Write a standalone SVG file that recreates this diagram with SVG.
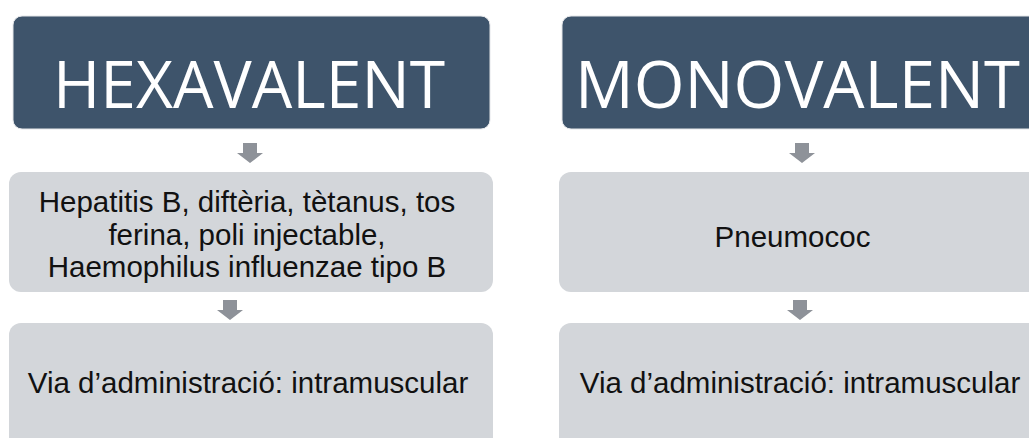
<svg xmlns="http://www.w3.org/2000/svg" width="1029" height="438" viewBox="0 0 1029 438">
<style>
.hdr{fill:#3e546b;stroke:#e4e6e9;stroke-width:1}
.box{fill:#d3d6da}
.arr{fill:#8e9299}
.ht{font-family:"Open Sans","Liberation Sans",sans-serif;font-size:66px;fill:#ffffff;text-anchor:middle}
.bt{font-family:"Liberation Sans",Arial,sans-serif;font-size:29.5px;fill:#111111;text-anchor:middle}
</style>
<rect width="1029" height="438" fill="#ffffff"/>
<g id="hexavalent">
<rect class="hdr" x="13" y="16" width="477" height="113" rx="9"/>
<text class="ht" x="249" y="108" textLength="392" lengthAdjust="spacingAndGlyphs">HEXAVALENT</text>
</g>
<g id="hexa-components">
<rect class="box" x="9" y="172" width="484" height="120" rx="12"/>
<text class="bt" x="247" y="212">Hepatitis B, diftèria, tètanus, tos</text>
<text class="bt" x="247" y="245">ferina, poli injectable,</text>
<text class="bt" x="247" y="277">Haemophilus influenzae tipo B</text>
</g>
<g id="hexa-via">
<rect class="box" x="9" y="323" width="484" height="130" rx="12"/>
<text class="bt" x="248" y="393">Via d’administració: intramuscular</text>
</g>
<g id="monovalent">
<rect class="hdr" x="562" y="16" width="477" height="113" rx="9"/>
<text class="ht" x="797.5" y="108" textLength="445" lengthAdjust="spacingAndGlyphs">MONOVALENT</text>
</g>
<g id="mono-components">
<rect class="box" x="559" y="172" width="484" height="120" rx="12"/>
<text class="bt" x="792.5" y="247">Pneumococ</text>
</g>
<g id="mono-via">
<rect class="box" x="559" y="323" width="484" height="130" rx="12"/>
<text class="bt" x="800" y="393">Via d’administració: intramuscular</text>
</g>
<g id="connectors">
<path class="arr" d="M243,143 h14 v10 h6 l-13,10 l-13,-10 h6 z"/>
<path class="arr" d="M223,300 h14 v10 h6 l-13,10 l-13,-10 h6 z"/>
<path class="arr" d="M795,143 h14 v10 h6 l-13,10 l-13,-10 h6 z"/>
<path class="arr" d="M793,300 h14 v10 h6 l-13,10 l-13,-10 h6 z"/>
</g>
</svg>
